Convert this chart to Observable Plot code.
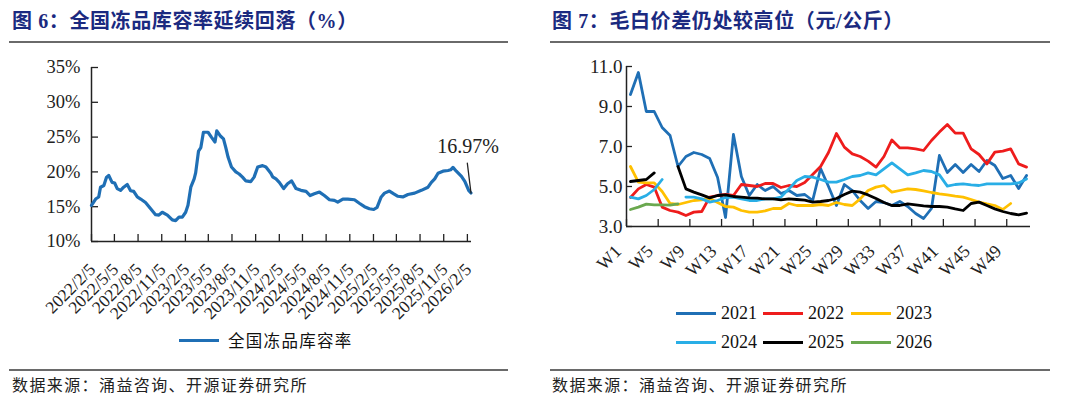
<!DOCTYPE html>
<html><head><meta charset="utf-8">
<script src="https://cdn.jsdelivr.net/npm/d3@7"></script>
<script src="https://cdn.jsdelivr.net/npm/@observablehq/plot@0.6"></script>
<style>
body{margin:0;background:#fff;}
#root{position:relative;width:1080px;height:396px;overflow:hidden;background:#fff;}
.title{position:absolute;top:8px;font-family:"Liberation Serif","Noto Sans CJK SC",serif;font-weight:bold;font-size:20px;letter-spacing:0.6px;color:#1b2a80;white-space:nowrap;line-height:26px;}
.rule{position:absolute;height:2px;background:#6a6a6a;}
.foot{position:absolute;top:374px;font-family:"Noto Sans CJK SC",sans-serif;font-size:16px;letter-spacing:1.4px;color:#222;white-space:nowrap;line-height:20px;}
.chart{position:absolute;top:50px;}
.sw{position:absolute;width:40px;height:3px;}
.lt{position:absolute;font-family:"Liberation Serif","Noto Sans CJK SC",serif;font-size:18px;color:#111;white-space:nowrap;line-height:20px;}
</style></head><body>
<div id="root">
  <div class="title" style="left:12px;">图 6：全国冻品库容率延续回落（%）</div>
  <div class="rule" style="left:9px;width:499px;top:41px;"></div>
  <div class="title" style="left:552px;">图 7：毛白价差仍处较高位（元/公斤）</div>
  <div class="rule" style="left:550px;width:500px;top:41px;"></div>
  <div id="left" class="chart" style="left:0px;"></div>
  <div id="right" class="chart" style="left:540px;"></div>
  <div id="legL"></div>
  <div id="legR"></div>
  <div class="rule" style="left:9px;width:499px;top:369px;height:1.5px;"></div>
  <div class="rule" style="left:550px;width:500px;top:369px;height:1.5px;"></div>
  <div class="foot" style="left:12px;">数据来源：涌益咨询、开源证券研究所</div>
  <div class="foot" style="left:552px;">数据来源：涌益咨询、开源证券研究所</div>
</div>
<script>
// ---------- Figure 6 data ----------
const leftSeriesName = "全国冻品库容率";
const leftDates = ["2022-02-05","2022-02-21","2022-03-05","2022-03-12","2022-03-25","2022-04-04","2022-04-13","2022-04-26","2022-05-06","2022-05-16","2022-05-29","2022-06-10","2022-06-24","2022-07-07","2022-07-19","2022-08-02","2022-08-15","2022-09-03","2022-09-23","2022-10-12","2022-10-25","2022-11-07","2022-11-27","2022-12-16","2022-12-29","2023-01-11","2023-01-24","2023-02-06","2023-02-15","2023-02-26","2023-03-11","2023-03-17","2023-03-28","2023-04-06","2023-04-16","2023-05-04","2023-05-17","2023-05-31","2023-06-07","2023-06-20","2023-07-03","2023-07-12","2023-07-21","2023-08-03","2023-08-20","2023-09-02","2023-09-15","2023-09-28","2023-10-17","2023-10-30","2023-11-13","2023-12-02","2023-12-15","2024-01-03","2024-01-10","2024-01-23","2024-02-05","2024-02-22","2024-03-08","2024-03-24","2024-04-10","2024-04-29","2024-05-19","2024-06-04","2024-06-20","2024-07-10","2024-07-29","2024-08-18","2024-09-06","2024-09-19","2024-10-09","2024-10-28","2024-11-23","2024-12-12","2025-01-01","2025-01-20","2025-02-06","2025-02-19","2025-03-07","2025-03-20","2025-04-08","2025-04-25","2025-05-11","2025-05-30","2025-06-19","2025-07-15","2025-08-10","2025-09-05","2025-09-18","2025-10-01","2025-10-14","2025-11-02","2025-11-22","2025-12-02","2025-12-11","2025-12-24","2026-01-13","2026-01-26","2026-02-10","2026-02-19"];
const leftValues = [15.2,16.1,16.4,17.8,18.05,19.2,19.5,18.5,18.4,17.6,17.35,17.8,18.2,17.3,17.2,16.4,16.1,15.6,14.7,13.85,13.8,14.2,13.8,13.1,13.0,13.5,13.5,14.2,15.2,17.8,19.0,19.9,23.0,23.5,25.7,25.7,25.0,24.3,25.9,25.2,24.75,23.5,22.1,20.7,20.0,19.7,19.25,18.7,18.6,19.25,20.7,20.9,20.7,19.8,19.3,19.0,18.5,17.6,18.3,18.7,17.6,17.35,17.2,16.6,16.85,17.1,16.6,16.0,15.9,15.65,16.1,16.1,16.0,15.5,15.0,14.7,14.6,14.9,16.4,16.95,17.25,16.85,16.5,16.4,16.75,16.95,17.35,17.8,18.5,19.0,19.8,20.1,20.2,20.3,20.65,20.1,19.35,18.65,17.35,16.97];
const leftXTicks = ["2022/2/5","2022/5/5","2022/8/5","2022/11/5","2023/2/5","2023/5/5","2023/8/5","2023/11/5","2024/2/5","2024/5/5","2024/8/5","2024/11/5","2025/2/5","2025/5/5","2025/8/5","2025/11/5","2026/2/5"];
const leftYTicks = [10,15,20,25,30,35];
const leftXEnd = "2026-02-21";
const lastLabel = "16.97%";

// ---------- Figure 7 data ----------
const years = ["2021","2022","2023","2024","2025","2026"];
const yearColors = ["#1f6fb5","#ee1c1c","#ffc000","#29aee6","#000000","#6aa84f"];
const v2021 = [9.6,10.7,8.75,8.75,7.95,7.55,6.0,6.5,6.7,6.6,6.4,5.45,3.45,7.6,5.5,4.55,5.1,4.8,5.0,4.65,4.8,4.55,4.6,4.3,5.9,5.0,4.05,5.1,4.8,4.3,3.9,4.25,4.2,4.05,4.25,4.0,3.65,3.4,3.9,6.55,5.7,6.1,5.7,6.1,5.75,6.3,6.05,5.4,5.55,4.9,5.55];
const v2022 = [4.45,4.88,5.1,4.97,3.97,3.8,3.72,3.55,3.72,3.75,4.47,4.55,4.6,4.55,5.1,5.05,5.0,5.15,5.15,4.95,5.05,5.0,5.2,5.6,6.0,6.7,7.65,6.97,6.63,6.5,6.27,5.97,6.5,7.33,6.93,6.93,6.88,6.8,7.3,7.72,8.1,7.67,7.67,6.88,6.6,6.13,6.72,6.77,6.88,6.13,5.97];
const v2023 = [6.0,5.22,5.18,5.18,4.75,4.15,4.1,4.2,4.3,4.33,4.4,4.2,4.0,3.97,3.8,3.72,3.72,3.78,3.9,3.9,4.15,4.05,4.05,4.05,4.1,4.05,4.2,4.1,4.05,4.38,4.8,4.97,5.05,4.72,4.8,4.88,4.85,4.78,4.7,4.63,4.58,4.52,4.47,4.35,4.22,4.13,4.05,3.85,4.15];
const v2024 = [4.47,4.38,4.55,4.85,5.35,null,null,4.47,4.47,4.38,4.22,4.3,4.45,4.47,4.38,4.3,4.3,4.38,4.38,4.47,4.88,5.3,5.5,5.47,5.35,5.22,5.22,5.35,5.5,5.55,5.68,5.58,5.88,6.18,5.88,5.58,5.68,5.8,5.75,5.58,5.02,5.1,5.13,5.08,5.05,5.13,5.13,5.13,5.13,5.18,5.38];
const v2025 = [5.25,5.3,5.35,5.68,null,null,6.0,4.88,4.72,4.58,4.43,4.55,4.58,4.5,4.47,4.43,4.42,4.38,4.38,4.33,4.38,4.35,4.32,4.22,4.25,4.3,4.4,4.6,4.77,4.72,4.58,4.4,4.2,4.05,4.05,4.13,4.08,4.03,4.0,4.0,3.97,3.88,3.8,4.15,4.22,4.05,3.88,3.75,3.65,3.58,3.67];
const v2026 = [3.85,3.97,4.12,4.08,4.08,4.07,4.13];
const weekCount = 51;
const weekLabels = ["W1","W5","W9","W13","W17","W21","W25","W29","W33","W37","W41","W45","W49"];
const rightYTicks = [3,5,7,9,11];

// ---------- build ----------
const serif = "Liberation Serif, Times New Roman, serif";
const W = 540, H = 250;
const parseISO = d3.utcParse("%Y-%m-%d");
const parseTick = d3.utcParse("%Y/%m/%d");

const L = {ml: 91, mr: 69, mt: 17, mb: 59};
const lfw = W - L.ml - L.mr, lfh = H - L.mt - L.mb;
const leftData = leftDates.map((d, i) => ({date: parseISO(d), value: leftValues[i]}));
const lastPt = leftData[leftData.length - 1];
const x0 = parseTick(leftXTicks[0]);

const leftPlot = Plot.plot({
  width: W, height: H,
  marginLeft: L.ml, marginRight: L.mr, marginTop: L.mt, marginBottom: L.mb,
  style: {fontFamily: serif, fontSize: "18px", color: "#222", background: "transparent", overflow: "visible"},
  x: {type: "utc", domain: [x0, parseISO(leftXEnd)], axis: null},
  y: {domain: [10, 35]},
  marks: [
    Plot.axisY(leftYTicks, {tickSize: 0, tickPadding: 11, tickFormat: d => d + "%", label: null, fontSize: 18.5, fill: "#222"}),
    Plot.tickY(leftYTicks, {y: d => d, insetRight: lfw - 7, stroke: "#222", strokeWidth: 1.3}),
    Plot.tickX(leftXTicks, {x: d => parseTick(d), insetTop: lfh - 7, stroke: "#222", strokeWidth: 1.3}),
    Plot.ruleY([10], {stroke: "#222", strokeWidth: 1.5}),
    Plot.ruleX([x0], {stroke: "#222", strokeWidth: 1.5}),
    Plot.line(leftData, {x: "date", y: "value", stroke: "#1f6fb5", strokeWidth: 3.2, strokeLinejoin: "round", curve: "linear"}),
    Plot.text(leftXTicks, {x: d => parseTick(d), text: d => d, frameAnchor: "bottom", rotate: -45, textAnchor: "end", lineAnchor: "bottom", dx: 5, dy: 29, fontSize: 17.5, fill: "#222"}),
    Plot.vector([lastPt], {x: "date", y: "value", length: 30, rotate: -7, anchor: "start", stroke: "#222", strokeWidth: 1.3,
      shape: {draw(context, l) { context.moveTo(0, 0); context.lineTo(0, -l); }}}),
    Plot.text([lastPt], {x: "date", y: "value", text: () => lastLabel, dy: -40, dx: -3, lineAnchor: "bottom", textAnchor: "middle", fontSize: 20, fill: "#222"})
  ]
});
document.getElementById("left").appendChild(leftPlot);

const R = {ml: 86, mr: 50, mt: 16, mb: 74};
const rfw = W - R.ml - R.mr, rfh = H - R.mt - R.mb;
const series = [v2021, v2022, v2023, v2024, v2025, v2026];
const rows = [];
series.forEach((vals, k) => vals.forEach((v, i) => rows.push({year: years[k], week: i + 1, value: v == null ? NaN : v})));

const rightPlot = Plot.plot({
  width: W, height: H,
  marginLeft: R.ml, marginRight: R.mr, marginTop: R.mt, marginBottom: R.mb,
  style: {fontFamily: serif, fontSize: "18px", color: "#222", background: "transparent", overflow: "visible"},
  x: {domain: [0.5, weekCount + 0.5], axis: null},
  y: {domain: [3, 11]},
  color: {domain: years, range: yearColors},
  marks: [
    Plot.axisY(rightYTicks, {tickSize: 0, tickPadding: 4, tickFormat: d => d.toFixed(1), label: null, fontSize: 19, fill: "#222"}),
    Plot.tickY(rightYTicks, {y: d => d, insetRight: rfw - 6, stroke: "#222", strokeWidth: 1.3}),
    Plot.tickX(weekLabels, {x: d => +d.slice(1) - 0.5, insetTop: rfh - 7, stroke: "#222", strokeWidth: 1.3}),
    Plot.ruleY([3], {stroke: "#222", strokeWidth: 1.5}),
    Plot.ruleX([0.5], {stroke: "#222", strokeWidth: 1.5}),
    Plot.line(rows, {x: "week", y: "value", z: "year", stroke: "year", strokeWidth: 2.8, strokeLinejoin: "round"}),
    Plot.text(weekLabels, {x: d => +d.slice(1), text: d => d, frameAnchor: "bottom", rotate: -45, textAnchor: "end", lineAnchor: "bottom", dx: -8, dy: 26, fontSize: 18, fill: "#222"})
  ]
});
document.getElementById("right").appendChild(rightPlot);

// legends
const legL = document.getElementById("legL");
legL.innerHTML = `<div class="sw" style="left:179px;top:339px;background:#1f6fb5"></div><div class="lt" style="left:228px;top:330px;font-family:'Noto Sans CJK SC',sans-serif;font-size:16.5px;letter-spacing:1.3px">${leftSeriesName}</div>`;
const legR = document.getElementById("legR");
const legX = [676, 763, 851], legY = [313, 342];
legR.innerHTML = years.map((y, i) => {
  const cx = legX[i % 3], cy = legY[Math.floor(i / 3)];
  return `<div class="sw" style="left:${cx}px;top:${cy - 1.5}px;background:${yearColors[i]}"></div><div class="lt" style="left:${cx + 45}px;top:${cy - 10}px">${y}</div>`;
}).join("");
</script>
</body></html>
